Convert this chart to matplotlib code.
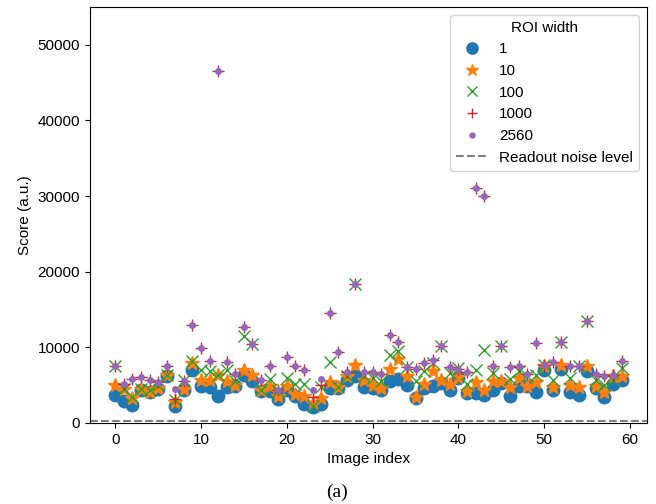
import matplotlib
matplotlib.use("Agg")
import matplotlib.pyplot as plt
import numpy as np

plt.rcParams['font.family'] = ['Liberation Sans', 'DejaVu Sans']

image_index = list(range(60))
roi_labels = ["1", "10", "100", "1000", "2560"]

score_1 = [3630, 2840, 2300, 4300, 4030, 4520, 6160, 2170, 4390, 7040,
           4920, 4700, 3600, 4700, 4830, 6380, 5490, 4160, 4160, 3150,
           4390, 3600, 2500, 2080, 2520, 4610, 4600, 5620, 6160, 4740,
           4610, 4390, 5580, 5800, 5050, 3280, 4610, 4920, 5270, 4300,
           5940, 3940, 3940, 3720, 4390, 5270, 3590, 4920, 4830, 4030,
           7040, 4390, 7180, 4030, 3720, 6820, 4610, 3410, 5180, 5710]
score_10 = [5050, 4500, 3280, 4500, 4030, 4600, 6380, 2700, 4520, 7930,
            5710, 5710, 6380, 5490, 5050, 7040, 6380, 4390, 4920, 3500,
            4920, 3850, 3590, 2610, 3280, 5360, 4740, 6250, 7710, 5620,
            5050, 4610, 7130, 8460, 6250, 3370, 5180, 6820, 5710, 5180,
            6100, 4160, 5360, 4390, 5580, 5580, 4740, 5940, 4920, 5360,
            7580, 4740, 7710, 5050, 4740, 7580, 4920, 4030, 6160, 6250]
score_100 = [7490, 4520, 3410, 4520, 4390, 5050, 6380, 3060, 5620, 8240,
             7040, 6820, 6380, 7040, 5500, 11470, 10370, 4390, 5800, 4160,
             5940, 5180, 5180, 2170, 4740, 8020, 4740, 6160, 18330, 6200,
             5940, 5490, 9040, 9480, 7350, 5490, 6820, 7930, 10140, 6600,
             7260, 5180, 7040, 9610, 6600, 10140, 5800, 6820, 6160, 6380,
             7710, 5710, 10650, 5940, 7490, 13410, 5620, 5050, 5710, 7260]
score_1000 = [7490, 5180, 5800, 6070, 5710, 5400, 7490, 3150, 5580, 12880,
              9880, 8240, 46600, 8100, 6470, 12650, 10370, 5620, 7490, 4300,
              8680, 7490, 6930, 3410, 5050, 14480, 9390, 6730, 18330, 6730,
              6730, 6510, 11600, 10720, 7350, 7130, 7930, 8280, 10140, 7400,
              7130, 6690, 31080, 30010, 7580, 10140, 7350, 7490, 6470, 10590,
              7710, 8020, 10650, 7580, 7490, 13410, 6470, 6160, 6380, 8240]
score_2560 = [7490, 5180, 5800, 6070, 5710, 5400, 7490, 4470, 5580, 12880,
              9880, 8240, 46600, 8100, 6470, 12650, 10370, 5620, 7490, 4300,
              8680, 7490, 6930, 4390, 5800, 14480, 9390, 6730, 18330, 6730,
              6730, 6510, 11600, 10720, 7350, 7130, 7930, 8280, 10140, 7400,
              7130, 6690, 31080, 30010, 7580, 10140, 7350, 7490, 6470, 10590,
              7710, 8020, 10650, 7580, 7490, 13410, 6470, 6160, 6380, 8240]
readout_noise = 250

series = [score_1, score_10, score_100, score_1000, score_2560]
markers = ['o', '*', 'x', '+', '.']
sizes = [9, 10, 8.5, 8.5, 8]
colors = ['C0', 'C1', 'C2', 'C3', 'C4']

fig = plt.figure(figsize=(6.56, 5.04), dpi=100)
ax = fig.add_axes([0.137, 0.161, 0.849, 0.825])

for vals, lab, m, s, c in zip(series, roi_labels, markers, sizes, colors):
    ax.plot(image_index, vals, linestyle='none', marker=m, markersize=s,
            color=c, label=lab)
ax.axhline(readout_noise, color='gray', linestyle='--', linewidth=1.5,
           label='Readout noise level')

ax.set_ylim(0, 55000)
ax.set_xlabel('Image index', fontsize=11)
ax.set_ylabel('Score (a.u.)', fontsize=11)
ax.tick_params(labelsize=11)
ax.legend(title='ROI width', loc='upper right', fontsize=11,
          title_fontsize=11, markerscale=0.9)

fig.text(0.514, 0.024, '(a)', ha='center', va='center', fontsize=14,
         family=['Liberation Serif', 'DejaVu Serif'])

fig.savefig('out.png', dpi=100)
